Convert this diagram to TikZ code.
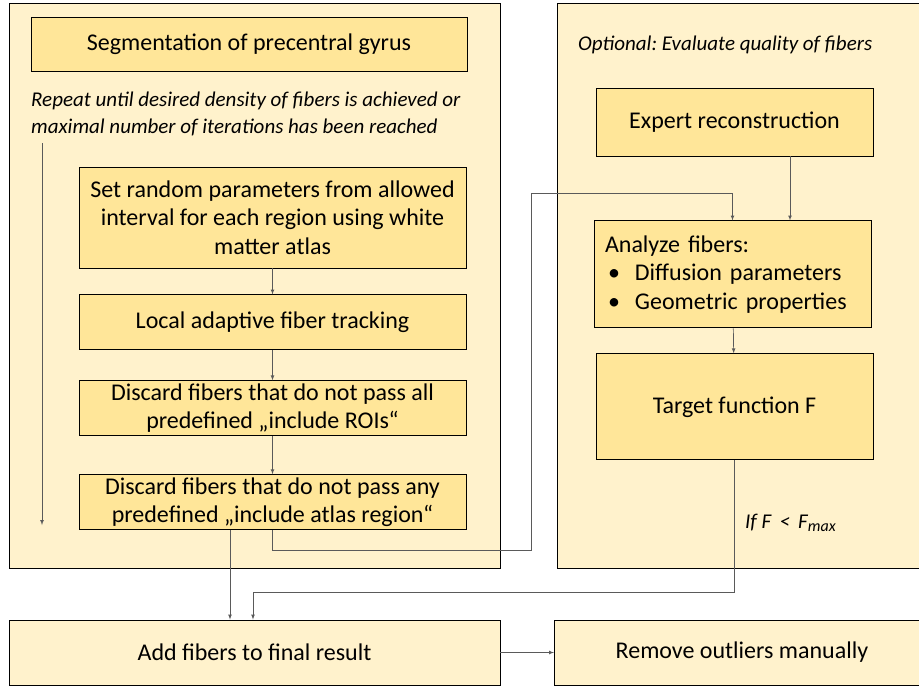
\documentclass[tikz,border=0pt]{standalone}
\usepackage{fontspec}
\setmainfont{Carlito}
\usetikzlibrary{arrows, calc, positioning}

\definecolor{panelfill}{HTML}{FFF2CC}
\definecolor{stagefill}{HTML}{FFE699}
\definecolor{linkgray}{HTML}{5A5A5A}

\tikzset{
  panel/.style={draw, fill=panelfill, line width=0.9pt, inner sep=0pt},
  stage/.style={draw, fill=stagefill, line width=0.9pt, align=center,
    inner sep=2pt, font=\fontsize{24}{28.5}\selectfont},
  finalbox/.style={draw, fill=panelfill, line width=0.9pt, align=center,
    inner sep=2pt, font=\fontsize{24}{28}\selectfont},
  note/.style={font=\fontsize{21}{27}\selectfont\itshape, align=left, inner sep=0pt},
  link/.style={->, draw=linkgray, line width=0.7pt}
}

\begin{document}
\frenchspacing
\begin{tikzpicture}[>=latex, x=1pt, y=-1pt]
  \useasboundingbox (0,0) rectangle (919,686);
  \clip (0,0) rectangle (919,686);

  \node[panel, anchor=north west, minimum width=491pt, minimum height=565pt] (leftpanel) at (9,3) {};
  \node[panel, anchor=north west, minimum width=370pt, minimum height=565pt] (rightpanel) at (557,3) {};

  \node[stage, minimum width=436pt, minimum height=54pt] (segment) at (249,44) {Segmentation of precentral gyrus};
  \node[note, anchor=north west] (repeat) at (31,92) {Repeat until desired density of fibers is achieved or\\maximal number of iterations has been reached};

  \node[stage, minimum width=387pt, minimum height=101pt] (setparams) at (272.5,217.5)
    {Set random parameters from allowed\\interval for each region using white\\matter atlas};
  \node[stage, minimum width=387pt, minimum height=55pt, below = 26pt of setparams] (tracking) {Local adaptive fiber tracking};
  \node[stage, minimum width=387pt, minimum height=55pt, below = 30pt of tracking] (discardroi)
    {Discard fibers that do not pass all\\predefined „include ROIs“};
  \node[stage, minimum width=387pt, minimum height=55pt, below = 38pt of discardroi] (discardatlas)
    {Discard fibers that do not pass any\\predefined „include atlas region“};

  \coordinate (loopstart) at (42,143);
  \coordinate (loopend) at (42,525);

  \node[note, anchor=west] (optional) at (578,45) {Optional: Evaluate quality of fibers};
  \node[stage, minimum width=277pt, minimum height=68pt] (expert) at (734.5,122) {Expert reconstruction};
  \node[stage, minimum width=277pt, minimum height=107pt, text width=255pt, align=left, below = 64pt of expert, xshift=-2pt] (analyze)
    {Analyze fibers:\\
     \hspace*{3pt}\makebox[27pt][l]{\textbullet}Diffusion parameters\\
     \hspace*{3pt}\makebox[27pt][l]{\textbullet}Geometric properties};
  \node[stage, minimum width=277pt, minimum height=106pt, below = 25pt of analyze, xshift=2pt] (target) {Target function F};
  \node[note, anchor=west] (condition) at (745,523) {If F \,<\, F\textsubscript{\fontsize{16}{16}\selectfont max}};

  \node[finalbox, minimum width=491pt, minimum height=65pt] (addfibers) at (254.5,652.5) {Add fibers to final result};
  \node[finalbox, anchor=west, minimum width=375pt, minimum height=65pt] (outliers) at (554,652.5) {Remove outliers manually};

  \coordinate (atlasturn) at (531,550);
  \coordinate (analyzeturn) at (531,193);
  \coordinate (returnturn) at (253,592);

  \draw[link] (loopstart) -- (loopend);
  \draw[link] (setparams) -- (tracking);
  \draw[link] (tracking) -- (discardroi);
  \draw[link] (discardroi) -- (discardatlas);
  \draw[link] ([xshift=-42.5pt]discardatlas.south) -- ([xshift=-42.5pt]discardatlas.south |- addfibers.north);
  \draw[link] (discardatlas.south) |- (atlasturn) -- (analyzeturn) -| (analyze.north);
  \draw[link] ([xshift=55.5pt]expert.south) -- ([xshift=55.5pt]expert.south |- analyze.north);
  \draw[link] (analyze) -- (target);
  \draw[link] (target.south) |- (returnturn) -- (returnturn |- addfibers.north);
  \draw[link] (addfibers) -- (outliers);
\end{tikzpicture}
\end{document}
